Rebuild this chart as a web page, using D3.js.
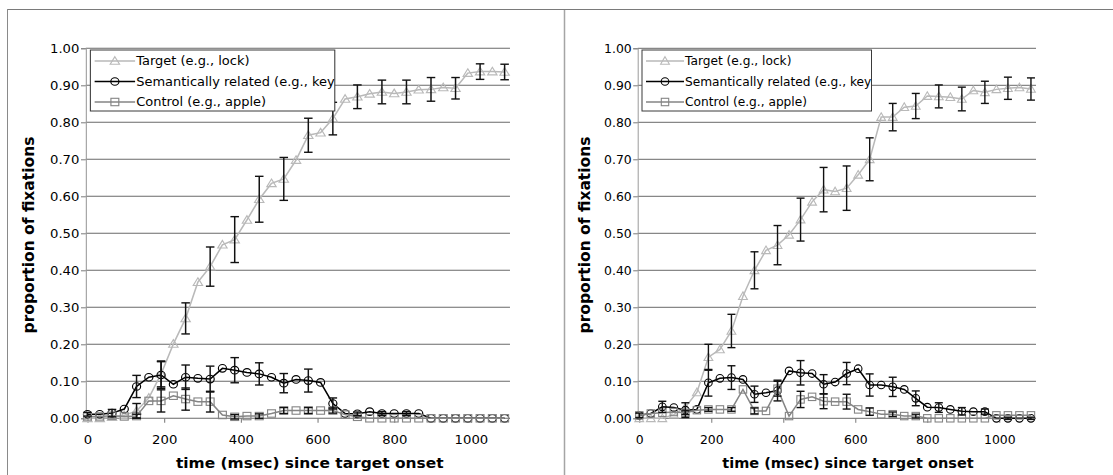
<!DOCTYPE html>
<html>
<head>
<meta charset="utf-8">
<script src="https://cdnjs.cloudflare.com/ajax/libs/d3/7.8.5/d3.min.js"></script>
<style>
  html, body { margin: 0; padding: 0; background: #fff; }
  svg { display: block; }
  text { font-family: "DejaVu Sans", Verdana, sans-serif; fill: #000; }
</style>
</head>
<body>
<svg id="chart"></svg>
<script>
// time bins (msec since target onset)
const times = [0, 32, 64, 96, 128, 160, 192, 224, 256, 288, 320, 352, 384, 416, 448, 480, 512,
  544, 576, 608, 640, 672, 704, 736, 768, 800, 832, 864, 896, 928, 960, 992, 1024, 1056, 1088];

const xTicks = [0, 200, 400, 600, 800, 1000];
const yTicks = [0, 0.1, 0.2, 0.3, 0.4, 0.5, 0.6, 0.7, 0.8, 0.9, 1.0];

const seriesNames = ["Target (e.g., lock)", "Semantically related (e.g., key)", "Control (e.g., apple)"];

// left panel
const leftTarget = [0, 0, 0.003, 0.008, 0.02, 0.055, 0.12, 0.201, 0.27, 0.368, 0.41, 0.469, 0.483, 0.536,
  0.592, 0.635, 0.647, 0.698, 0.765, 0.772, 0.81, 0.863, 0.869, 0.877, 0.882, 0.878, 0.882, 0.888,
  0.889, 0.894, 0.892, 0.933, 0.937, 0.937, 0.936];
const leftTargetErr = [0, 0, 0, 0, 0.02, 0, 0.035, 0, 0.042, 0, 0.053, 0, 0.062, 0, 0.062, 0, 0.058, 0,
  0.046, 0, 0.044, 0, 0.032, 0, 0.032, 0, 0.032, 0, 0.032, 0, 0.029, 0, 0.021, 0, 0.021];
const leftRelated = [0.011, 0.011, 0.014, 0.025, 0.086, 0.111, 0.117, 0.092, 0.111, 0.108, 0.106, 0.135,
  0.13, 0.124, 0.12, 0.111, 0.095, 0.105, 0.102, 0.097, 0.04, 0.013, 0.012, 0.018, 0.013, 0.013, 0.013,
  0.013, 0, 0, 0, 0, 0, 0, 0];
const leftRelatedErr = [0.005, 0, 0.01, 0, 0.03, 0, 0.036, 0, 0.033, 0, 0.035, 0, 0.034, 0, 0.03, 0, 0.026, 0,
  0.031, 0, 0.015, 0, 0.005, 0, 0.005, 0, 0.005, 0, 0, 0, 0, 0, 0, 0, 0];
const leftControl = [0.005, 0.005, 0.007, 0.005, 0.006, 0.047, 0.047, 0.061, 0.052, 0.045, 0.045, 0.009,
  0.004, 0.006, 0.006, 0.013, 0.021, 0.021, 0.021, 0.021, 0.021, 0.01, 0.004, 0, 0, 0, 0, 0, 0, 0, 0, 0, 0, 0, 0];
const leftControlErr = [0, 0, 0, 0, 0.005, 0, 0.03, 0, 0.03, 0, 0.028, 0, 0.006, 0, 0.006, 0, 0.008, 0,
  0.008, 0, 0.007, 0, 0, 0, 0, 0, 0, 0, 0, 0, 0, 0, 0, 0, 0];

// right panel
const rightTarget = [0, 0, 0, 0.01, 0.03, 0.07, 0.165, 0.186, 0.236, 0.33, 0.40, 0.454, 0.468, 0.496,
  0.537, 0.585, 0.618, 0.613, 0.622, 0.658, 0.70, 0.814, 0.814, 0.841, 0.844, 0.871, 0.87, 0.868,
  0.863, 0.886, 0.881, 0.889, 0.892, 0.894, 0.89];
const rightTargetErr = [0, 0, 0, 0, 0, 0, 0.035, 0, 0.045, 0, 0.05, 0, 0.053, 0, 0.058, 0, 0.06, 0,
  0.06, 0, 0.058, 0, 0.037, 0, 0.034, 0, 0.031, 0, 0.032, 0, 0.03, 0, 0.03, 0, 0.03];
const rightRelated = [0.008, 0.013, 0.031, 0.029, 0.022, 0.024, 0.096, 0.108, 0.11, 0.105, 0.065, 0.069,
  0.075, 0.128, 0.123, 0.121, 0.092, 0.098, 0.121, 0.134, 0.09, 0.09, 0.085, 0.078, 0.054, 0.03,
  0.029, 0.024, 0.019, 0.018, 0.018, 0, 0, 0, 0];
const rightRelatedErr = [0.006, 0, 0.015, 0, 0.02, 0, 0.036, 0, 0.032, 0, 0.022, 0, 0.028, 0, 0.033, 0,
  0.026, 0, 0.03, 0, 0.03, 0, 0.026, 0, 0.02, 0, 0.013, 0, 0.01, 0, 0.007, 0, 0.003, 0, 0.003];
const rightControl = [0.008, 0.013, 0.015, 0.017, 0.015, 0.022, 0.024, 0.024, 0.024, 0.078, 0.02, 0.02,
  0.08, 0.006, 0.051, 0.058, 0.046, 0.045, 0.045, 0.024, 0.018, 0.011, 0.011, 0.006, 0.006, 0, 0, 0,
  0, 0, 0, 0.008, 0.008, 0.008, 0.008];
const rightControlErr = [0, 0, 0, 0, 0.005, 0, 0.005, 0, 0.005, 0, 0.008, 0, 0.02, 0, 0.022, 0, 0.02, 0,
  0.02, 0, 0.01, 0, 0.006, 0, 0.005, 0, 0, 0, 0, 0, 0, 0, 0, 0, 0];

const width = 1113, height = 475;

const svg = d3.select("#chart").attr("width", width).attr("height", height);

// styles per series: target, related, control
const styles = [
  { color: "#b9b9b9", marker: "triangle" },
  { color: "#000000", marker: "circle" },
  { color: "#858585", marker: "square" },
];

function drawMarker(sel, kind, color) {
  if (kind === "circle") {
    sel.append("circle").attr("r", 3.8)
      .attr("fill", "none").attr("stroke", color).attr("stroke-width", 1.1);
  } else if (kind === "square") {
    sel.append("rect").attr("x", -3.7).attr("y", -3.7).attr("width", 7.4).attr("height", 7.4)
      .attr("fill", "none").attr("stroke", color).attr("stroke-width", 1.1);
  } else {
    sel.append("path").attr("d", "M0,-4.3L4.4,3.3L-4.4,3.3Z")
      .attr("fill", "none").attr("stroke", color).attr("stroke-width", 1.1);
  }
}

function drawPanel(g, series, errors, id) {
  const x = d3.scaleLinear().domain([-4.4, 1102]).range([73.7, 472]);
  const y = d3.scaleLinear().domain([0, 1]).range([418.3, 48.3]);

  // gridlines
  g.append("g").selectAll("line").data(yTicks).join("line")
    .attr("x1", x.range()[0]).attr("x2", x.range()[1])
    .attr("y1", (d) => y(d)).attr("y2", (d) => y(d))
    .attr("stroke", "#6a6a6a").attr("stroke-width", 1);

  // y axis
  const yAxis = d3.axisLeft(y).tickValues(yTicks).tickSize(4.5).tickPadding(1.5)
    .tickFormat(d3.format(".2f"));
  const ya = g.append("g").attr("transform", `translate(${x.range()[0]},0)`).call(yAxis);
  ya.select(".domain").attr("stroke", "#9a9a9a");
  ya.selectAll(".tick line").attr("stroke", "#7a7a7a");
  ya.selectAll(".tick text").style("font-size", "12.4px").style("font-family", "DejaVu Sans").attr("fill", "#000");

  // x axis
  const xAxis = d3.axisBottom(x).tickValues(xTicks).tickSize(4.5).tickPadding(12)
    .tickFormat(d3.format("d"));
  const xa = g.append("g").attr("transform", `translate(0,${y(0)})`).call(xAxis);
  xa.select(".domain").remove();
  xa.selectAll(".tick line").attr("stroke", "#7a7a7a");
  xa.selectAll(".tick text").style("font-size", "12.4px").style("font-family", "DejaVu Sans").attr("fill", "#000");

  // axis titles
  g.append("text")
    .attr("transform", "translate(25.5,235) rotate(-90)")
    .attr("text-anchor", "middle")
    .style("font-size", "15.5px").style("font-weight", "bold")
    .text("proportion of fixations");
  g.append("text")
    .attr("x", 284).attr("y", 468)
    .attr("text-anchor", "middle")
    .style("font-size", "14.5px").style("font-weight", "bold")
    .text("time (msec) since target onset");

  // lines + markers
  const line = d3.line().x((d, i) => x(times[i])).y((d) => y(d));
  series.forEach((values, s) => {
    const st = styles[s];
    g.append("path").datum(values)
      .attr("fill", "none").attr("stroke", st.color).attr("stroke-width", 1.5)
      .attr("d", line);
    g.append("g").selectAll("g").data(values).join("g")
      .attr("transform", (d, i) => `translate(${x(times[i])},${y(d)})`)
      .each(function () { drawMarker(d3.select(this), st.marker, st.color); });
  });

  // error bars
  series.forEach((values, s) => {
    const bars = values.map((v, i) => ({ t: times[i], v: v, e: errors[s][i] })).filter((d) => d.e > 0);
    const eg = g.append("g").attr("stroke", "#111").attr("stroke-width", 1.4);
    eg.selectAll("line.v").data(bars).join("line").attr("class", "v")
      .attr("x1", (d) => x(d.t)).attr("x2", (d) => x(d.t))
      .attr("y1", (d) => y(d.v - d.e)).attr("y2", (d) => y(d.v + d.e));
    eg.selectAll("line.top").data(bars).join("line").attr("class", "top")
      .attr("x1", (d) => x(d.t) - 4).attr("x2", (d) => x(d.t) + 4)
      .attr("y1", (d) => y(d.v + d.e)).attr("y2", (d) => y(d.v + d.e));
    eg.selectAll("line.bot").data(bars).join("line").attr("class", "bot")
      .attr("x1", (d) => x(d.t) - 4).attr("x2", (d) => x(d.t) + 4)
      .attr("y1", (d) => y(d.v - d.e)).attr("y2", (d) => y(d.v - d.e));
  });

  // legend
  const box = { x: 78, y: 50, w: 229.5, h: 61 };
  g.append("clipPath").attr("id", "clip-" + id)
    .append("rect").attr("x", box.x).attr("y", box.y).attr("width", box.w).attr("height", box.h);
  g.append("rect")
    .attr("x", box.x).attr("y", box.y).attr("width", box.w).attr("height", box.h)
    .attr("fill", "#fff").attr("stroke", "#3a3a3a").attr("stroke-width", 1);
  const legend = g.append("g").attr("clip-path", `url(#clip-${id})`);
  seriesNames.forEach((name, s) => {
    const cy = 61 + s * 20.5;
    const st = styles[s];
    legend.append("line").attr("x1", 82).attr("x2", 120).attr("y1", cy).attr("y2", cy)
      .attr("stroke", st.color).attr("stroke-width", 1.5);
    drawMarker(legend.append("g").attr("transform", `translate(101,${cy})`), st.marker, st.color);
    legend.append("text").attr("x", 121).attr("y", cy).attr("dy", "0.36em")
      .style("font-size", "12.2px").text(name);
  });
}

// panel frame
svg.append("line").attr("x1", 7).attr("x2", width).attr("y1", 9.5).attr("y2", 9.5)
  .attr("stroke", "#7a7a7a").attr("stroke-width", 1);
svg.append("line").attr("x1", 7.5).attr("x2", 7.5).attr("y1", 9).attr("y2", height)
  .attr("stroke", "#8a8a8a").attr("stroke-width", 1);
svg.append("line").attr("x1", 564.5).attr("x2", 564.5).attr("y1", 10).attr("y2", height)
  .attr("stroke", "#a5a5a5").attr("stroke-width", 1.5);

// left panel is horizontally stretched in the original figure
const leftG = svg.append("g").attr("transform", "translate(7.3,0) scale(1.065,1)");
drawPanel(leftG, [leftTarget, leftRelated, leftControl],
  [leftTargetErr, leftRelatedErr, leftControlErr], "left");

const rightG = svg.append("g").attr("transform", "translate(564,0)");
drawPanel(rightG, [rightTarget, rightRelated, rightControl],
  [rightTargetErr, rightRelatedErr, rightControlErr], "right");
</script>
</body>
</html>
